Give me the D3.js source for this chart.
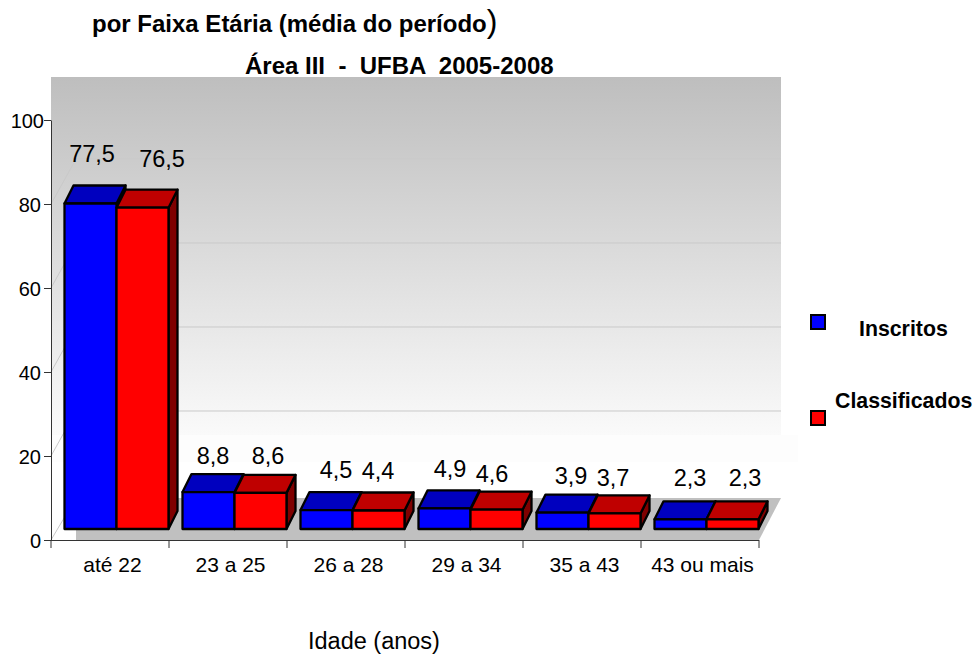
<!DOCTYPE html>
<html>
<head>
<meta charset="utf-8">
<script src="https://cdn.jsdelivr.net/npm/d3@7"></script>
<style>
  html, body { margin: 0; background: #fff; }
  text { font-family: "Liberation Sans", Arial, sans-serif; fill: #000; }
  .bar-label { font-size: 23.5px; text-anchor: middle; }
  .legend-label { font-size: 21.3px; font-weight: bold; }
  .title { font-size: 24px; font-weight: bold; }
</style>
</head>
<body>
<svg id="chart" width="978" height="655"></svg>
<script>
const categories = ['até 22', '23 a 25', '26 a 28', '29 a 34', '35 a 43', '43 ou mais'];
const seriesNames = ['Inscritos', 'Classificados'];
const inscritos = [77.5, 8.8, 4.5, 4.9, 3.9, 2.3];
const classificados = [76.5, 8.6, 4.4, 4.6, 3.7, 2.3];
const yTicks = [0, 20, 40, 60, 80, 100];
const seriesValues = [inscritos, classificados];

const frontColors = ['#0000ff', '#ff0000'];
const topColors = ['#0000bf', '#bf0000'];
const sideColors = ['#00007f', '#7f0000'];

const width = 978;
const height = 655;
const plot = { left: 51, right: 759, top: 120, bottom: 540 };
// 3d offsets: how far the bars sit in from the axis, and the bar depth
const wall = { dx: 25, dy: -42 };
const gridDy = -45;
const barBase = -11;
const barDepth = { dx: 9, dy: -18 };

// the labels were hand placed in the original, so nudge them [dx, dy] per series
const labelNudge = [
  [[-7.5, -14.5], [-4.5, -1], [0.5, -5], [-3.5, -4], [-0.5, -2], [0.5, -6]],
  [[10.5, -14], [-1.5, -2], [-9.5, -5], [-13.5, -1], [-10.5, 0], [3.5, -6]]
];

const svg = d3.select('#chart');

const xScale = d3.scaleBand().domain(categories).range([plot.left, plot.right]);
const xInner = d3.scaleBand().domain(d3.range(seriesNames.length)).range([13.5, xScale.bandwidth() - 0.5]);
const yScale = d3.scaleLinear().domain([0, 100]).range([plot.bottom, plot.top]);

const defs = svg.append('defs');
const grad = defs.append('linearGradient')
  .attr('id', 'wallGrad')
  .attr('x1', 0).attr('x2', 0).attr('y1', 0).attr('y2', 1);
grad.append('stop').attr('offset', '0%').attr('stop-color', '#bebebe');
grad.append('stop').attr('offset', '100%').attr('stop-color', '#fafafa');

const wallRight = plot.right + 22;
const wallTop = 77;
const wallBottom = 435;
const floorBack = yScale(0) + wall.dy;

// back wall
svg.append('rect')
  .attr('x', plot.left)
  .attr('y', wallTop)
  .attr('width', wallRight - plot.left)
  .attr('height', wallBottom - wallTop)
  .attr('fill', 'url(#wallGrad)');

// pale strip that runs past the wall
svg.append('rect')
  .attr('x', plot.left)
  .attr('y', wallBottom)
  .attr('width', 798 - plot.left)
  .attr('height', 27)
  .attr('fill', '#fdfdfd');

// floor
svg.append('polygon')
  .attr('points', [
    [plot.left + wall.dx, floorBack],
    [wallRight, floorBack],
    [plot.right, plot.bottom],
    [plot.left + wall.dx, plot.bottom]
  ].join(' '))
  .attr('fill', '#c0c0c0');

// gridlines, along the side wall and then along the back wall
svg.append('g').selectAll('path')
  .data(yTicks.filter(d => d > 0 && d < 100))
  .join('path')
  .attr('d', d => {
    const y = yScale(d);
    return `M${plot.left},${y}L${plot.left + wall.dx},${y + gridDy}L${wallRight},${y + gridDy}`;
  })
  .attr('fill', 'none')
  .attr('stroke', '#c9c9c9')
  .attr('stroke-width', 1);

svg.append('line')
  .attr('x1', plot.left).attr('y1', yScale(0))
  .attr('x2', plot.left + wall.dx).attr('y2', floorBack)
  .attr('stroke', '#c8c8c8');

// bars
const groups = svg.append('g').selectAll('g')
  .data(categories)
  .join('g')
  .attr('transform', d => `translate(${xScale(d)},0)`);

function barGeom(v, s) {
  const x0 = xInner(s);
  const x1 = x0 + xInner.bandwidth();
  const y0 = yScale(0) + barBase;
  const y1 = yScale(v) + barBase;
  return { x0, x1, y0, y1 };
}

groups.each(function (cat, i) {
  const g = d3.select(this);
  seriesNames.forEach((name, s) => {
    const v = seriesValues[s][i];
    const { x0, x1, y0, y1 } = barGeom(v, s);
    const { dx, dy } = barDepth;
    const faces = g.append('g')
      .attr('stroke', '#000')
      .attr('stroke-width', 2.3)
      .attr('stroke-linejoin', 'round');
    faces.append('polygon')
      .attr('points', [[x1, y0], [x1 + dx, y0 + dy], [x1 + dx, y1 + dy], [x1, y1]].join(' '))
      .attr('fill', sideColors[s]);
    faces.append('polygon')
      .attr('points', [[x0, y1], [x0 + dx, y1 + dy], [x1 + dx, y1 + dy], [x1, y1]].join(' '))
      .attr('fill', topColors[s]);
    faces.append('rect')
      .attr('x', x0).attr('y', y1)
      .attr('width', x1 - x0).attr('height', y0 - y1)
      .attr('fill', frontColors[s]);
  });
});

// data labels
groups.each(function (cat, i) {
  const g = d3.select(this);
  seriesNames.forEach((name, s) => {
    const v = seriesValues[s][i];
    const { x0, x1, y1 } = barGeom(v, s);
    const [nx, ny] = labelNudge[s][i];
    g.append('text')
      .attr('class', 'bar-label')
      .attr('x', (x0 + x1) / 2 + barDepth.dx + nx)
      .attr('y', y1 + barDepth.dy - 9 + ny)
      .text(String(v).replace('.', ','));
  });
});

// axes
const axisX = svg.append('g')
  .attr('transform', `translate(0,${plot.bottom})`)
  .call(d3.axisBottom(xScale).tickSize(0).tickPadding(17));
axisX.select('.domain').attr('stroke', '#333').attr('d', `M${plot.left},0.5H${plot.right}`);
axisX.selectAll('.tick text')
  .attr('dx', 2.5)
  .style('font-family', '"Liberation Sans"')
  .style('font-size', '21px');

svg.append('g').selectAll('line')
  .data(categories.concat(['end']))
  .join('line')
  .attr('x1', (d, i) => plot.left + i * xScale.bandwidth())
  .attr('x2', (d, i) => plot.left + i * xScale.bandwidth())
  .attr('y1', plot.bottom)
  .attr('y2', plot.bottom + 8)
  .attr('stroke', '#333');

const axisY = svg.append('g')
  .attr('transform', `translate(${plot.left},0)`)
  .call(d3.axisLeft(yScale).tickValues(yTicks).tickSize(7).tickPadding(3).tickSizeOuter(0));
axisY.selectAll('.domain, .tick line').attr('stroke', '#333');
axisY.selectAll('.tick text')
  .attr('dx', d => d === 100 ? 3 : 0)
  .attr('y', 1)
  .style('font-family', '"Liberation Sans"')
  .style('font-size', '20px');

// legend
const legend = svg.append('g');
const legendRows = [
  { x: 859, textY: 336, boxY: 315 },
  { x: 835, textY: 408, boxY: 411 }
];
seriesNames.forEach((name, s) => {
  const row = legendRows[s];
  legend.append('rect')
    .attr('x', 811).attr('y', row.boxY)
    .attr('width', 14).attr('height', 14)
    .attr('fill', frontColors[s])
    .attr('stroke', '#000')
    .attr('stroke-width', 2);
  legend.append('text')
    .attr('class', 'legend-label')
    .attr('x', row.x).attr('y', row.textY)
    .text(name);
});

// titles
const t1 = svg.append('text').attr('class', 'title').attr('x', 92).attr('y', 32);
t1.append('tspan').text('por Faixa Etária (média do período');
t1.append('tspan').style('font-weight', 'normal').style('font-size', '32px').text(')');
svg.append('text').attr('class', 'title').attr('x', 245).attr('y', 74).attr('xml:space', 'preserve').text('Área III  -  UFBA  2005-2008');

svg.append('text')
  .attr('x', 308).attr('y', 649)
  .style('font-size', '23.5px')
  .text('Idade (anos)');
</script>
</body>
</html>
